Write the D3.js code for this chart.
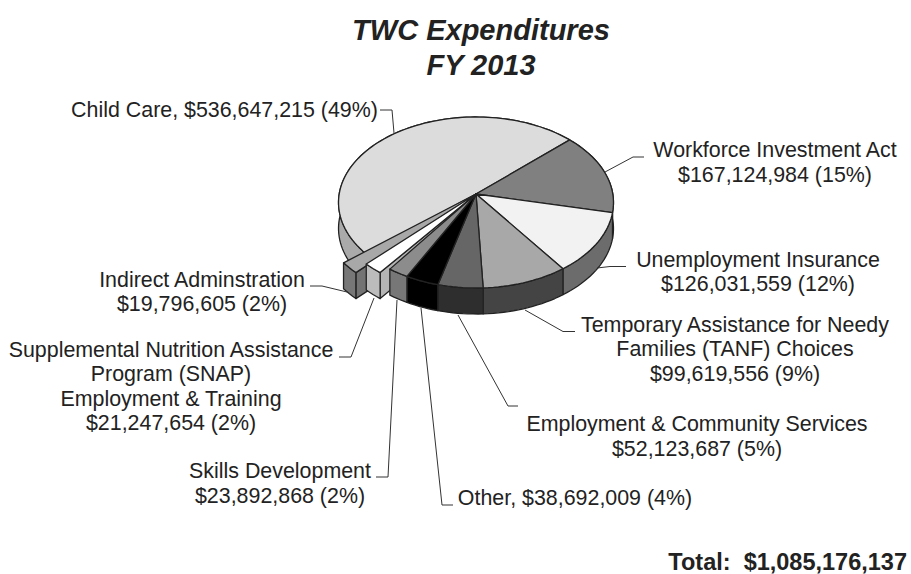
<!DOCTYPE html>
<html lang="en">
<head>
<meta charset="utf-8">
<title>TWC Expenditures</title>
<script src="https://d3js.org/d3.v7.min.js"></script>
<style>
  html, body { margin: 0; padding: 0; background: #fff; }
  text { font-family: "Liberation Sans", Arial, sans-serif; fill: #222; white-space: pre; }
</style>
</head>
<body>
<div id="chart"></div>
<script>
// data, in pie order going clockwise
var categories = ["Workforce Investment Act", "Unemployment Insurance", "Temporary Assistance for Needy Families (TANF) Choices",
  "Employment & Community Services", "Other", "Skills Development", "Supplemental Nutrition Assistance Program (SNAP) Employment & Training",
  "Indirect Adminstration", "Child Care"];
var values = [167124984, 126031559, 99619556, 52123687, 38692009, 23892868, 21247654, 19796605, 536647215];
var topColors = ["#808080", "#f2f2f2", "#a8a8a8", "#666666", "#000000", "#8c8c8c", "#ffffff", "#a8a8a8", "#dcdcdc"];
var sideColors = ["#5a5a5a", "#6c6c6c", "#444444", "#2e2e2e", "#000000", "#777777", "#bcbcbc", "#777777", "#aaaaaa"];
// the two pulled out slices: how far out they reach and how many degrees they are turned
var pullOut = [1, 1, 1, 1, 1, 1, 1.065, 1.17, 1];
var turn = [0, 0, 0, 0, 0, 0, 1.7, 1, 0];

var w = 911, h = 574;
var svg = d3.select("#chart").append("svg").attr("width", w).attr("height", h);

// the pie is tilted, with some perspective
var cx = 476, cy = 194, rx = 136.8, ry = 84.65, k = 0.0994, depth = 26;
function project(a, r, down) {
  var u = r * Math.sin(a), v = -r * Math.cos(a), s = 1 - k * v;
  return [cx + rx * u / s, cy + ry * v / s + (down || 0)];
}

var rad = Math.PI / 180;
var slices = d3.pie().sort(null).startAngle(47 * rad).endAngle(407 * rad)(values);
slices.forEach(function (d) {
  d.a0 = d.startAngle + turn[d.index] * rad;
  d.a1 = d.endAngle + turn[d.index] * rad;
  d.r = pullOut[d.index];
});

function arcPoints(d, down) {
  var n = Math.max(2, Math.ceil((d.a1 - d.a0) / (2 * rad)));
  return d3.range(n + 1).map(function (i) { return project(d.a0 + (d.a1 - d.a0) * i / n, d.r, down); });
}

var line = d3.line();
function closed(pts) { return line(pts) + "Z"; }

var pie = svg.append("g").attr("stroke", "#222").attr("stroke-width", 1.3).attr("stroke-linejoin", "round");

function drawSlice(d) {
  var g = pie.append("g");
  // radial face on the clockwise side of a pulled out slice
  if (d.r > 1) {
    var c = [cx, cy], p = project(d.a0, d.r);
    g.append("path").attr("fill", d3.color(sideColors[d.index]).darker(0.1))
      .attr("d", closed([c, p, [p[0], p[1] + depth], [c[0], c[1] + depth]]));
  }
  // outer wall
  g.append("path").attr("fill", sideColors[d.index])
    .attr("d", closed(arcPoints(d, 0).concat(arcPoints(d, depth).reverse())));
  // top
  g.append("path").attr("fill", topColors[d.index])
    .attr("d", closed([[cx, cy]].concat(arcPoints(d, 0))));
}

// back to front
[8, 7, 6, 0, 1, 2, 3, 4, 5].forEach(function (i) { drawSlice(slices[i]); });

// leader lines
var leaders = [
  [[380, 110], [392, 110], [394, 133]],
  [[644, 157], [633, 157], [605, 172]],
  [[626, 266.5], [610, 266.5], [597, 268]],
  [[575, 331.5], [563, 331.5], [525, 310]],
  [[518, 406], [508, 406], [458, 315]],
  [[453, 505], [442, 505], [421, 308]],
  [[376, 477], [388, 477], [397, 300]],
  [[339, 357], [351, 357], [374, 298]],
  [[310, 286], [322, 286], [347, 292]]
];
svg.append("g").selectAll("path").data(leaders).join("path")
  .attr("d", line).attr("fill", "none").attr("stroke", "#333").attr("stroke-width", 1);

// labels
var labels = [
  { x: 224.5, lines: [["Child Care, $536,647,215 (49%)", 117]] },
  { x: 775, lines: [["Workforce Investment Act", 157], ["$167,124,984 (15%)", 182]] },
  { x: 758, lines: [["Unemployment Insurance", 266.5], ["$126,031,559 (12%)", 291]] },
  { x: 735, lines: [["Temporary Assistance for Needy", 331.5], ["Families (TANF) Choices", 356], ["$99,619,556 (9%)", 380.5]] },
  { x: 697, lines: [["Employment & Community Services", 431], ["$52,123,687 (5%)", 455.5]] },
  { x: 575, lines: [["Other, $38,692,009 (4%)", 505]] },
  { x: 280, lines: [["Skills Development", 478], ["$23,892,868 (2%)", 503]] },
  { x: 171, lines: [["Supplemental Nutrition Assistance", 356.5], ["Program (SNAP)", 381], ["Employment & Training", 406], ["$21,247,654 (2%)", 430]] },
  { x: 202, lines: [["Indirect Adminstration", 286.5], ["$19,796,605 (2%)", 311]] }
];
var labelText = svg.append("g").style("font-size", "21.4px").attr("text-anchor", "middle");
labels.forEach(function (l) {
  l.lines.forEach(function (t) {
    labelText.append("text").attr("x", l.x).attr("y", t[1]).text(t[0]);
  });
});

// title
var title = ["TWC Expenditures", "FY 2013"];
svg.append("g").selectAll("text").data(title).join("text")
  .attr("x", 481).attr("y", function (d, i) { return 40 + i * 34.5; })
  .attr("text-anchor", "middle")
  .style("font-size", "29px").style("font-weight", "bold").style("font-style", "italic")
  .text(function (d) { return d; });

svg.append("text").attr("x", 907).attr("y", 570).attr("text-anchor", "end")
  .style("font-size", "23.5px").style("font-weight", "bold")
  .text("Total:  $1,085,176,137");
</script>
</body>
</html>
